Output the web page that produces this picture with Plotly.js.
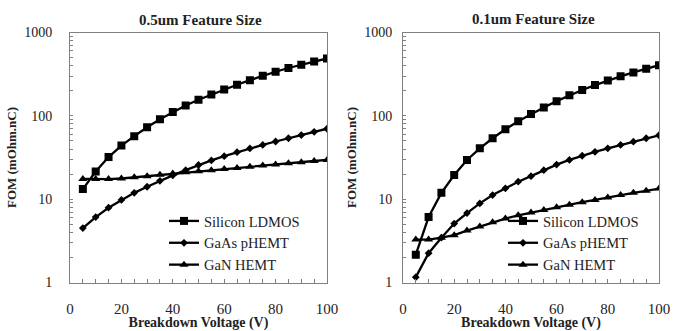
<!DOCTYPE html>
<html>
<head>
<meta charset="utf-8">
<script src="https://cdn.plot.ly/plotly-3.0.1.min.js"></script>
<style>html,body{margin:0;padding:0;background:#fff;}#chart{width:686px;height:331px;}</style>
</head>
<body>
<div id="chart"></div>
<script>
// Breakdown voltage (V)
const voltage = [5,10,15,20,25,30,35,40,45,50,55,60,65,70,75,80,85,90,95,100];

// 0.5um feature size
const si05   = [13.2,21.5,32,44,57,73,91,111,133,156,180,207,236,268,302,338,375,410,448,488];
const gaas05 = [4.5,6.1,7.9,9.8,11.9,14.1,16.6,19.3,22.3,25.7,29.2,32.8,36.6,40.6,44.8,49.2,53.8,58.8,64.2,70];
const gan05  = [17.5,17.4,17.4,17.7,18.3,18.9,19.6,20.3,21,21.6,22.3,23,23.7,24.5,25.3,26.1,27,27.8,28.7,29.6];

// 0.1um feature size
const si01   = [2.16,6.1,11.9,19.5,29.5,40.8,53.8,69,86,105,126,150,176,204,234,265,298,332,367,405];
const gaas01 = [1.16,2.25,3.45,5.1,6.8,8.9,11.2,13.5,16.2,18.9,22.3,26,29.6,33.2,37,40.8,44.8,49,53.8,58.5];
const gan01  = [3.27,3.27,3.45,3.7,4.2,4.7,5.3,5.85,6.4,6.9,7.4,8.0,8.6,9.2,9.8,10.5,11.2,11.9,12.6,13.4];

const seriesNames = ['Silicon LDMOS','GaAs pHEMT','GaN HEMT'];
const panelTitles = ['0.5um Feature Size','0.1um Feature Size'];
const xTitle = 'Breakdown Voltage (V)';
const yTitle = 'FOM (mOhm.nC)';
const yTickVals = [1,2,3,4,5,6,7,8,9,10,20,30,40,50,60,70,80,90,100,200,300,400,500,600,700,800,900,1000];
const yTickText = yTickVals.map(v => [1,10,100,1000].includes(v) ? String(v) : '');

const W = 686, H = 331;
const serif = 'Liberation Serif, Times New Roman, Times, serif';
const symbols = ['square','diamond','triangle-up'];
const msizes = [8,6,8];

const panels = [[si05,gaas05,gan05],[si01,gaas01,gan01]];
const traces = [];
panels.forEach((set, p) => {
  set.forEach((vals, i) => {
    traces.push({
      x: voltage, y: vals, type: 'scatter', mode: 'lines+markers',
      name: seriesNames[i],
      xaxis: p === 0 ? 'x' : 'x2',
      yaxis: p === 0 ? 'y' : 'y2',
      legend: p === 0 ? 'legend' : 'legend2',
      line: {color: '#000', width: 2.3},
      marker: {symbol: symbols[i], size: msizes[i], color: '#000'}
    });
  });
});

const frame = '#808080';
function xax(domain, anchor) {
  return {
    domain: domain, anchor: anchor, range: [0, 100], dtick: 20,
    ticks: 'inside', ticklen: 4, tickcolor: frame,
    minor: {dtick: 5, ticks: 'inside', ticklen: 4, tickcolor: frame},
    showline: true, linecolor: frame, linewidth: 1, mirror: true,
    showgrid: false, zeroline: false,
    ticklabelstandoff: 12,
    tickfont: {family: serif, size: 15, color: '#222'},
    title: {text: xTitle, font: {family: serif, size: 14, color: '#222', weight: 'bold'}, standoff: 0}
  };
}
function yax(domain, anchor, standoff) {
  return {
    domain: domain, anchor: anchor, type: 'log', range: [0, 3],
    tickmode: 'array', tickvals: yTickVals, ticktext: yTickText,
    ticks: 'inside', ticklen: 3, tickcolor: frame,
    showline: true, linecolor: frame, linewidth: 1, mirror: true,
    showgrid: false, zeroline: false,
    ticklabelstandoff: standoff,
    tickfont: {family: serif, size: 14, color: '#222'},
    title: {text: yTitle, font: {family: serif, size: 13, color: '#222', weight: 'bold'}, standoff: 4}
  };
}
const yDom = [1 - 282.5 / H, 1 - 32.5 / H];
const legendFont = {family: serif, size: 14.5, color: '#222'};
const layout = {
  width: W, height: H,
  margin: {l: 0, r: 0, t: 0, b: 0},
  paper_bgcolor: '#fff', plot_bgcolor: '#fff',
  showlegend: true,
  xaxis: xax([70 / W, 327 / W], 'y'),
  yaxis: yax(yDom, 'x', 14),
  xaxis2: xax([403 / W, 659 / W], 'y2'),
  yaxis2: yax(yDom, 'x2', 7),
  legend: {x: 164 / W, y: 1 - 205 / H, xanchor: 'left', yanchor: 'top', bgcolor: 'rgba(0,0,0,0)',
           font: legendFont, tracegroupgap: 0, itemwidth: 30},
  legend2: {x: 503 / W, y: 1 - 205 / H, xanchor: 'left', yanchor: 'top', bgcolor: 'rgba(0,0,0,0)',
            font: legendFont, tracegroupgap: 0, itemwidth: 30},
  annotations: [
    {text: panelTitles[0], xref: 'paper', yref: 'paper', x: 200 / W, y: 1 - 20 / H, xanchor: 'center', yanchor: 'middle',
     showarrow: false, font: {family: serif, size: 15, color: '#222', weight: 'bold'}},
    {text: panelTitles[1], xref: 'paper', yref: 'paper', x: 533 / W, y: 1 - 19 / H, xanchor: 'center', yanchor: 'middle',
     showarrow: false, font: {family: serif, size: 15, color: '#222', weight: 'bold'}}
  ]
};
Plotly.newPlot('chart', traces, layout, {displayModeBar: false, staticPlot: true});
</script>
</body>
</html>
